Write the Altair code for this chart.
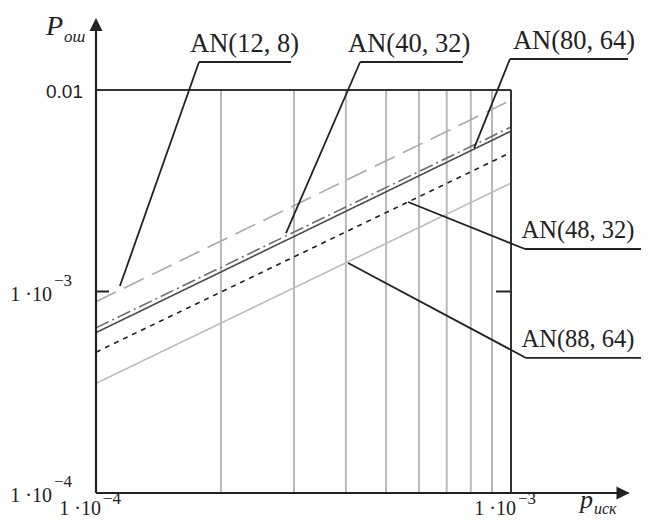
import altair as alt
import pandas as pd

# ---------------- data ----------------
series = ["AN(12, 8)", "AN(40, 32)", "AN(80, 64)", "AN(48, 32)", "AN(88, 64)"]
p_ends = [1e-4, 1e-3]
p_err_at_start = [8.9e-4, 6.6e-4, 6.25e-4, 5.0e-4, 3.5e-4]
p_err_at_end = [8.9e-3, 6.55e-3, 6.25e-3, 4.9e-3, 3.45e-3]

grid_p = [2e-4, 3e-4, 4e-4, 5e-4, 6e-4, 7e-4, 8e-4, 9e-4]
x_domain = [1e-4, 1e-3]
y_domain = [1e-4, 1e-2]

# styles per series
series_colors = ["#a9a9a9", "#6e6e6e", "#4a4a4a", "#1e1e1e", "#bcbcbc"]
series_dash = [[22, 9], [14, 4, 2, 4], [1, 0], [5, 5], [1, 0]]
series_width = [1.6, 1.6, 1.8, 2.4, 1.6]

# annotation geometry (label anchor, underline end, target on curve)
ann_label = series
ann_target_p = [1.142e-4, 2.87e-4, 8.15e-4, 5.65e-4, 4.05e-4]
ann_target_P = [1.064e-3, 1.95e-3, 5.15e-3, 2.78e-3, 1.384e-3]
ann_anchor_p = [1.771e-4, 4.33e-4, 9.94e-4, 1.081e-3, 1.087e-3]
ann_anchor_P = [1.377e-2, 1.377e-2, 1.425e-2, 1.625e-3, 4.68e-4]
ann_under_end = [2.951e-4, 7.66e-4, 1.914e-3, 2.15e-3, 2.07e-3]
ann_text_p = [1.685e-4, 4.05e-4, 1.011e-3, 1.06e-3, 1.06e-3]
ann_top = [True, True, True, False, False]

x_tip = 1.93e-3
y_tip = 2.28e-2

# ---------------- tables ----------------
rows = []
for name, s, e in zip(series, p_err_at_start, p_err_at_end):
    rows.append({"name": name, "p": p_ends[0], "P": s})
    rows.append({"name": name, "p": p_ends[1], "P": e})
lines_df = pd.DataFrame(rows)

ann_df = pd.DataFrame({
    "label": ann_label, "tp": ann_target_p, "tP": ann_target_P,
    "p": ann_anchor_p, "P": ann_anchor_P, "ue": ann_under_end, "lp": ann_text_p,
    "top": ann_top,
})

xs = alt.Scale(type="log", domain=x_domain, nice=False, zero=False)
ys = alt.Scale(type="log", domain=y_domain, nice=False, zero=False)


def X(f="p"):
    return alt.X(f"{f}:Q", scale=xs, axis=None)


def Y(f="P"):
    return alt.Y(f"{f}:Q", scale=ys, axis=None)


grid = alt.Chart(pd.DataFrame({"p": grid_p, "P": [y_domain[0]] * len(grid_p),
                               "P2": [y_domain[1]] * len(grid_p)})).mark_rule(
    color="#b9b9b9", strokeWidth=2).encode(x=X(), y=Y(), y2="P2:Q")

box = alt.Chart(pd.DataFrame({"p": [x_domain[0], x_domain[1]], "P": [y_domain[1], y_domain[0]],
                              "p2": [x_domain[1], x_domain[1]], "P2": [y_domain[1], y_domain[1]]})).mark_rule(
    color="#333333", strokeWidth=2).encode(x=X(), y=Y(), x2="p2:Q", y2="P2:Q")

axes = alt.Chart(pd.DataFrame({"p": [x_domain[0], x_domain[0]], "P": [y_domain[0], y_domain[0]],
                               "p2": [x_domain[0], x_tip - 1e-5], "P2": [y_tip * 0.9, y_domain[0]]})).mark_rule(
    color="#222222", strokeWidth=2.2).encode(x=X(), y=Y(), x2="p2:Q", y2="P2:Q")

ticks = alt.Chart(pd.DataFrame({"p": [1e-4, 0.92e-3], "p2": [1.075e-4, 1e-3], "P": [1e-3, 1e-3]})).mark_rule(
    color="#222222", strokeWidth=2).encode(x=X(), x2="p2:Q", y=Y())

arrow_up = alt.Chart(pd.DataFrame({"p": [x_domain[0]], "P": [y_tip]})).mark_point(
    shape="M0,0L-1,2L1,2Z", size=169, filled=True, opacity=1, color="#222222", strokeWidth=0
).encode(x=X(), y=Y())
arrow_right = alt.Chart(pd.DataFrame({"p": [x_tip], "P": [y_domain[0]]})).mark_point(
    shape="M0,0L-2,-1L-2,1Z", size=169, filled=True, opacity=1, color="#222222", strokeWidth=0
).encode(x=X(), y=Y())

curves = alt.Chart(lines_df).mark_line().encode(
    x=X(), y=Y(),
    detail="name:N",
    color=alt.Color("name:N", scale=alt.Scale(domain=series, range=series_colors), legend=None),
    strokeDash=alt.StrokeDash("name:N", scale=alt.Scale(domain=series, range=series_dash), legend=None),
    strokeWidth=alt.StrokeWidth("name:N", scale=alt.Scale(domain=series, range=series_width), legend=None),
)

leaders = alt.Chart(ann_df).mark_rule(color="#222222", strokeWidth=1.8).encode(
    x=X(), y=Y(), x2="tp:Q", y2="tP:Q")
underlines = alt.Chart(ann_df).mark_rule(color="#222222", strokeWidth=1.8).encode(
    x=X(), x2="ue:Q", y=Y())
ann_text_top = alt.Chart(ann_df).transform_filter("datum.top").mark_text(
    align="left", baseline="alphabetic", dy=-10, font="Liberation Serif", fontSize=26.5, color="#222222"
).encode(x=X("lp"), y=Y(), text="label:N")
ann_text_right = alt.Chart(ann_df).transform_filter("!datum.top").mark_text(
    align="left", baseline="alphabetic", dy=-11, font="Liberation Serif", fontSize=24.5, color="#222222"
).encode(x=X("lp"), y=Y(), text="label:N")

# tick labels
y_pow_vals = [1e-3, 1e-4]
y_pow_sup = ["\u22123", "\u22124"]
x_pow_vals = [1e-4, 1e-3]
x_pow_sup = ["\u22124", "\u22123"]

ylab_main = alt.Chart(pd.DataFrame({"P": y_pow_vals, "t": ["1 \u00b710"] * 2})).mark_text(
    align="right", baseline="middle", dy=3, font="Liberation Serif", fontSize=20, color="#222222"
).encode(x=alt.value(-44), y=Y(), text="t:N")
ylab_sup = alt.Chart(pd.DataFrame({"P": y_pow_vals, "t": y_pow_sup})).mark_text(
    align="left", baseline="middle", dy=-11, font="Liberation Serif", fontSize=17, color="#222222"
).encode(x=alt.value(-42), y=Y(), text="t:N")
ylab_001 = alt.Chart(pd.DataFrame({"P": [1e-2], "t": ["0.01"]})).mark_text(
    align="right", baseline="middle", dy=2, font="Liberation Sans", fontSize=19, color="#222222"
).encode(x=alt.value(-13), y=Y(), text="t:N")

xlab_main = alt.Chart(pd.DataFrame({"p": x_pow_vals, "t": ["1 \u00b710"] * 2})).mark_text(
    align="right", baseline="alphabetic", dx=5, font="Liberation Serif", fontSize=20, color="#222222"
).encode(x=X(), y=alt.value(425), text="t:N")
xlab_sup = alt.Chart(pd.DataFrame({"p": x_pow_vals, "t": x_pow_sup})).mark_text(
    align="left", baseline="alphabetic", dx=7, font="Liberation Serif", fontSize=17, color="#222222"
).encode(x=X(), y=alt.value(414), text="t:N")

# axis titles
t_P = alt.Chart(pd.DataFrame({"t": ["P"]})).mark_text(
    align="left", baseline="alphabetic", font="Liberation Serif", fontStyle="italic", fontSize=28, color="#222222"
).encode(x=alt.value(-50), y=alt.value(-55), text="t:N")
t_osh = alt.Chart(pd.DataFrame({"t": ["\u043e\u0448"]})).mark_text(
    align="left", baseline="alphabetic", font="Liberation Serif", fontStyle="italic", fontSize=17, color="#222222"
).encode(x=alt.value(-32), y=alt.value(-48), text="t:N")
t_p = alt.Chart(pd.DataFrame({"t": ["p"]})).mark_text(
    align="left", baseline="alphabetic", font="Liberation Serif", fontStyle="italic", fontSize=26, color="#222222"
).encode(x=alt.value(484), y=alt.value(418), text="t:N")
t_isk = alt.Chart(pd.DataFrame({"t": ["\u0438\u0441\u043a"]})).mark_text(
    align="left", baseline="alphabetic", font="Liberation Serif", fontStyle="italic", fontSize=16, color="#222222"
).encode(x=alt.value(498), y=alt.value(424), text="t:N")

chart = alt.layer(
    grid, curves, box, axes, ticks, arrow_up, arrow_right,
    leaders, underlines, ann_text_top, ann_text_right,
    ylab_main, ylab_sup, ylab_001, xlab_main, xlab_sup,
    t_P, t_osh, t_p, t_isk,
).properties(
    width=415, height=403,
    padding={"left": 88, "top": 82, "right": 130, "bottom": 26},
    autosize=alt.AutoSizeParams(type="none"),
    background="white",
).configure_view(stroke=None)

chart.save("out.html", embed_options={"renderer": "svg", "actions": False})
